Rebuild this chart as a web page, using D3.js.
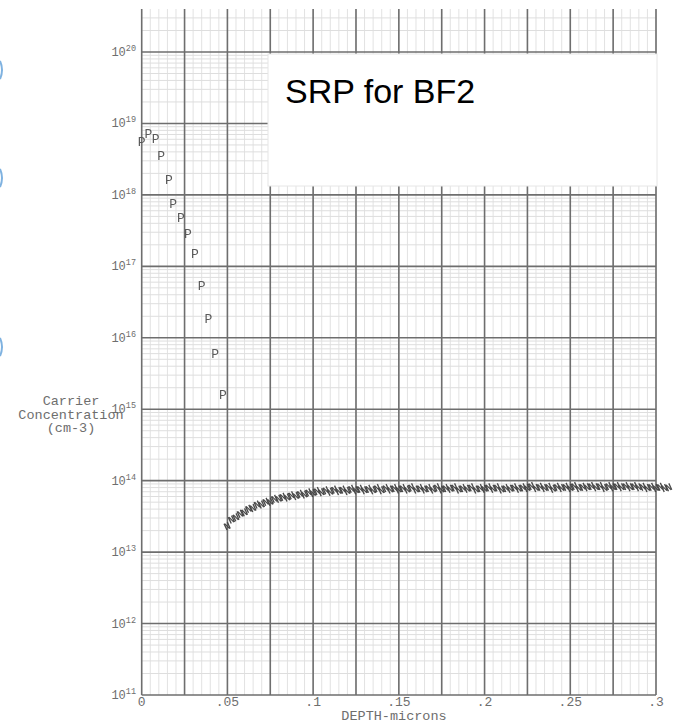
<!DOCTYPE html>
<html>
<head>
<meta charset="utf-8">
<script src="https://cdn.jsdelivr.net/npm/d3@7"></script>
<style>
  body { margin: 0; background: #fff; }
  .lbl { font-family: "Liberation Mono", "DejaVu Sans Mono", monospace; fill: #6a6a6a; }
</style>
</head>
<body>
<div id="chart"></div>
<script>
// Data (depth in microns, carrier concentration in cm-3)
var pDepth = [0.000, 0.0039, 0.0082, 0.0113, 0.0158, 0.0184, 0.0228, 0.0270, 0.0311, 0.0350, 0.0389, 0.0428, 0.0473];
var pConc = [5.4e18, 7.1e18, 6.0e18, 3.4e18, 1.6e18, 7.4e17, 4.6e17, 2.8e17, 1.45e17, 5.2e16, 1.8e16, 5.8e15, 1.55e15];

var nDepth = [
  0.0500, 0.0525, 0.0550, 0.0575, 0.0600, 0.0625, 0.0650, 0.0675, 0.0700, 0.0725,
  0.0750, 0.0775, 0.0800, 0.0825, 0.0850, 0.0875, 0.0900, 0.0925, 0.0950, 0.0975,
  0.1000, 0.1025, 0.1050, 0.1075, 0.1100, 0.1125, 0.1150, 0.1175, 0.1200, 0.1225,
  0.1250, 0.1275, 0.1300, 0.1325, 0.1350, 0.1375, 0.1400, 0.1425, 0.1450, 0.1475,
  0.1500, 0.1525, 0.1550, 0.1575, 0.1600, 0.1625, 0.1650, 0.1675, 0.1700, 0.1725,
  0.1750, 0.1775, 0.1800, 0.1825, 0.1850, 0.1875, 0.1900, 0.1925, 0.1950, 0.1975,
  0.2000, 0.2025, 0.2050, 0.2075, 0.2100, 0.2125, 0.2150, 0.2175, 0.2200, 0.2225,
  0.2250, 0.2275, 0.2300, 0.2325, 0.2350, 0.2375, 0.2400, 0.2425, 0.2450, 0.2475,
  0.2500, 0.2525, 0.2550, 0.2575, 0.2600, 0.2625, 0.2650, 0.2675, 0.2700, 0.2725,
  0.2750, 0.2775, 0.2800, 0.2825, 0.2850, 0.2875, 0.2900, 0.2925, 0.2950, 0.2975,
  0.3000, 0.3025, 0.3050, 0.3075];
var nConc = [
  2.29e13, 2.82e13, 3.02e13, 3.39e13, 3.55e13, 3.98e13, 4.07e13, 4.57e13, 4.57e13, 5.01e13,
  5.01e13, 5.50e13, 5.50e13, 5.89e13, 5.75e13, 6.17e13, 6.03e13, 6.46e13, 6.31e13, 6.76e13,
  6.61e13, 7.08e13, 6.76e13, 7.24e13, 6.92e13, 7.41e13, 7.08e13, 7.41e13, 7.08e13, 7.59e13,
  7.24e13, 7.59e13, 7.24e13, 7.59e13, 7.24e13, 7.76e13, 7.24e13, 7.76e13, 7.41e13, 7.76e13,
  7.41e13, 7.76e13, 7.41e13, 7.94e13, 7.41e13, 7.76e13, 7.41e13, 7.76e13, 7.41e13, 7.94e13,
  7.41e13, 7.76e13, 7.59e13, 7.94e13, 7.41e13, 7.76e13, 7.59e13, 7.94e13, 7.41e13, 7.76e13,
  7.59e13, 7.94e13, 7.59e13, 7.94e13, 7.41e13, 7.76e13, 7.59e13, 7.94e13, 7.59e13, 7.94e13,
  7.76e13, 8.32e13, 7.76e13, 8.13e13, 7.76e13, 8.13e13, 7.59e13, 8.13e13, 7.76e13, 8.13e13,
  7.76e13, 8.32e13, 7.76e13, 8.13e13, 7.94e13, 8.32e13, 7.94e13, 8.32e13, 7.76e13, 8.32e13,
  7.94e13, 8.32e13, 7.94e13, 8.32e13, 7.94e13, 8.32e13, 7.94e13, 8.13e13, 7.76e13, 8.13e13,
  7.76e13, 8.13e13, 7.76e13, 7.94e13];

var xTicks = [0, 0.05, 0.1, 0.15, 0.2, 0.25, 0.3],
  xTickLabels = ["0", ".05", ".1", ".15", ".2", ".25", ".3"],
  yExps = [11, 12, 13, 14, 15, 16, 17, 18, 19, 20];

var title = "SRP for BF2",
  yTitle = ["Carrier", "Concentration", "(cm-3)"],
  xTitle = "DEPTH-microns";

// Placement
var W = 673, H = 723,
  plotLeft = 141.7, plotRight = 656,
  plotTop = 9, plotBottom = 695;

var x = d3.scaleLinear().domain([0, 0.3]).range([plotLeft, plotRight]);
var y = d3.scaleLog().domain([1e11, 1e20]).range([plotBottom, 52]);
var yTopVal = y.invert(plotTop);

var svg = d3.select("#chart")
  .append("svg")
  .attr("width", W)
  .attr("height", H);

// slide edge marks (left border of the original slide)
var edgeMarks = [70, 178, 347];
svg.append("g").selectAll("path")
  .data(edgeMarks)
  .enter().append("path")
  .attr("d", function(d) { return "M0," + (d - 9) + " Q4," + d + " 0," + (d + 9); })
  .attr("fill", "none")
  .attr("stroke", "#7fb2e0")
  .attr("stroke-width", 2);

// GRID
var grid = svg.append("g");

// minor vertical lines every .005
var minorX = d3.range(0, 0.3001, 0.005);
grid.selectAll(".vminor")
  .data(minorX)
  .enter().append("line")
  .attr("x1", function(d) { return x(d); })
  .attr("x2", function(d) { return x(d); })
  .attr("y1", plotTop)
  .attr("y2", plotBottom)
  .attr("stroke", "#e2e2e2")
  .attr("stroke-width", 1);

// minor horizontal lines 2..9 in each decade
var minorY = [];
for (var e = 11; e <= 20; e++) {
  for (var k = 2; k <= 9; k++) {
    var v = k * Math.pow(10, e);
    if (v < yTopVal) minorY.push(v);
  }
}
grid.selectAll(".hminor")
  .data(minorY)
  .enter().append("line")
  .attr("x1", plotLeft)
  .attr("x2", plotRight)
  .attr("y1", function(d) { return y(d); })
  .attr("y2", function(d) { return y(d); })
  .attr("stroke", "#dedede")
  .attr("stroke-width", 1);

// major vertical lines every .025
var majorX = d3.range(0, 0.3001, 0.025);
grid.selectAll(".vmajor")
  .data(majorX)
  .enter().append("line")
  .attr("x1", function(d) { return x(d); })
  .attr("x2", function(d) { return x(d); })
  .attr("y1", plotTop)
  .attr("y2", plotBottom)
  .attr("stroke", "#6e6e6e")
  .attr("stroke-width", 1.6);

// decade lines
grid.selectAll(".hmajor")
  .data(yExps)
  .enter().append("line")
  .attr("x1", plotLeft)
  .attr("x2", plotRight)
  .attr("y1", function(d) { return y(Math.pow(10, d)); })
  .attr("y2", function(d) { return y(Math.pow(10, d)); })
  .attr("stroke", "#6e6e6e")
  .attr("stroke-width", 1.6);

// AXES LABELS (opacity < 1 keeps the glyphs grey instead of colour-fringed)
var labels = svg.append("g").attr("opacity", 0.97);

var yLab = labels.append("g").selectAll("text")
  .data(yExps)
  .enter().append("text")
  .attr("class", "lbl")
  .attr("x", 136)
  .attr("y", function(d) { return y(Math.pow(10, d)) + 4; })
  .attr("text-anchor", "end")
  .style("font-size", "12px");
yLab.append("tspan").text("10");
yLab.append("tspan")
  .attr("dy", -5)
  .style("font-size", "8.5px")
  .text(function(d) { return d; });

labels.append("g").selectAll("text")
  .data(xTicks)
  .enter().append("text")
  .attr("class", "lbl")
  .attr("x", function(d) { return x(d); })
  .attr("y", 706)
  .attr("text-anchor", "middle")
  .style("font-size", "13px")
  .text(function(d, i) { return xTickLabels[i]; });

labels.append("text")
  .attr("class", "lbl")
  .attr("x", 394)
  .attr("y", 720)
  .attr("text-anchor", "middle")
  .style("font-size", "13.5px")
  .text(xTitle);

labels.append("g").selectAll("text")
  .data(yTitle)
  .enter().append("text")
  .attr("class", "lbl")
  .attr("x", 71)
  .attr("y", function(d, i) { return 405 + i * 13.5; })
  .attr("text-anchor", "middle")
  .style("font-size", "13.5px")
  .text(function(d) { return d; });

// DATA POINTS
var pts = svg.append("g")
  .attr("class", "lbl")
  .attr("opacity", 0.97)
  .style("fill", "#555");

pts.selectAll(".pPt")
  .data(pDepth)
  .enter().append("text")
  .attr("x", function(d) { return x(d); })
  .attr("y", function(d, i) { return y(pConc[i]); })
  .attr("text-anchor", "middle")
  .attr("dominant-baseline", "central")
  .style("font-size", "13px")
  .text("P");

pts.selectAll(".nPt")
  .data(nDepth)
  .enter().append("text")
  .attr("x", function(d) { return x(d); })
  .attr("y", function(d, i) { return y(nConc[i]); })
  .attr("text-anchor", "middle")
  .attr("dominant-baseline", "central")
  .attr("transform", function(d, i) { return "rotate(-25," + x(d) + "," + y(nConc[i]) + ")"; })
  .style("font-size", "10.5px")
  .style("font-weight", "bold")
  .style("fill", "#444")
  .text("N");

// TITLE BOX
svg.append("rect")
  .attr("x", 268)
  .attr("y", 54)
  .attr("width", 389)
  .attr("height", 132)
  .attr("fill", "#fff")
  .attr("stroke", "#e6e6e6")
  .attr("stroke-width", 1);

svg.append("text")
  .attr("x", 285)
  .attr("y", 103)
  .style("font-family", "'Liberation Sans', Arial, sans-serif")
  .style("font-size", "34px")
  .style("fill", "#000")
  .text(title);
</script>
</body>
</html>
